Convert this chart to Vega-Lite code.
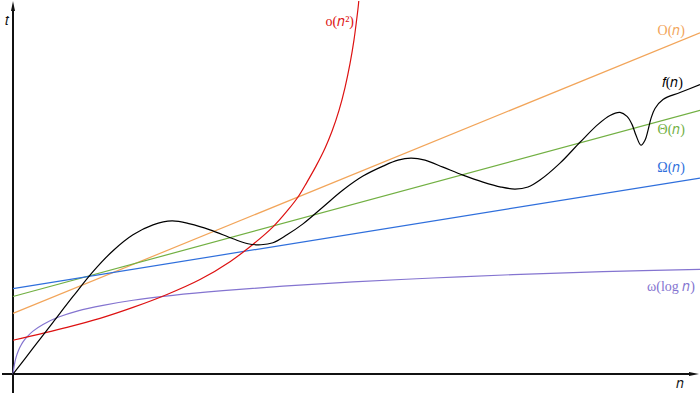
{
  "$schema": "https://vega.github.io/schema/vega-lite/v6.json",
  "width": 700,
  "height": 394,
  "autosize": {"type": "fit", "contains": "padding"},
  "padding": 0,
  "background": "white",
  "config": {"view": {"stroke": null}},
  "datasets": {
    "curves": [
      {"s": "O", "x": 0, "y": 61}, {"s": "O", "x": 687, "y": 343},
      {"s": "Theta", "x": 0, "y": 78}, {"s": "Theta", "x": 687, "y": 265},
      {"s": "Omega", "x": 0, "y": 86}, {"s": "Omega", "x": 687, "y": 197},
      {"s": "omega", "x": 0, "y": 0}, {"s": "omega", "x": 1, "y": 7.3}, {"s": "omega", "x": 2, "y": 12.5},
      {"s": "omega", "x": 3, "y": 16.5}, {"s": "omega", "x": 4, "y": 19.8}, {"s": "omega", "x": 6, "y": 25},
      {"s": "omega", "x": 8, "y": 29}, {"s": "omega", "x": 10, "y": 32.3}, {"s": "omega", "x": 14, "y": 37.4},
      {"s": "omega", "x": 20, "y": 43.2}, {"s": "omega", "x": 30, "y": 49.9}, {"s": "omega", "x": 45, "y": 57.1},
      {"s": "omega", "x": 65, "y": 63.6}, {"s": "omega", "x": 90, "y": 69.1}, {"s": "omega", "x": 120, "y": 74.2},
      {"s": "omega", "x": 160, "y": 79.1}, {"s": "omega", "x": 210, "y": 83.8}, {"s": "omega", "x": 270, "y": 88.4},
      {"s": "omega", "x": 340, "y": 92.6}, {"s": "omega", "x": 420, "y": 96.6}, {"s": "omega", "x": 500, "y": 100},
      {"s": "omega", "x": 590, "y": 103}, {"s": "omega", "x": 687, "y": 105.2},
      {"s": "o", "x": 0, "y": 34}, {"s": "o", "x": 54, "y": 47}, {"s": "o", "x": 87, "y": 56},
      {"s": "o", "x": 120, "y": 67}, {"s": "o", "x": 154, "y": 80}, {"s": "o", "x": 187, "y": 95},
      {"s": "o", "x": 217, "y": 113}, {"s": "o", "x": 237, "y": 128}, {"s": "o", "x": 260, "y": 148},
      {"s": "o", "x": 275, "y": 165}, {"s": "o", "x": 285, "y": 178}, {"s": "o", "x": 294, "y": 193},
      {"s": "o", "x": 303, "y": 209}, {"s": "o", "x": 312, "y": 227}, {"s": "o", "x": 319, "y": 244},
      {"s": "o", "x": 326, "y": 265}, {"s": "o", "x": 332, "y": 288}, {"s": "o", "x": 337, "y": 312},
      {"s": "o", "x": 341, "y": 336}, {"s": "o", "x": 343.5, "y": 355}, {"s": "o", "x": 345.5, "y": 372},
      {"s": "o", "x": 346.5, "y": 385},
      {"s": "f", "x": 0, "y": 0}, {"s": "f", "x": 20, "y": 26}, {"s": "f", "x": 40, "y": 52},
      {"s": "f", "x": 60, "y": 78}, {"s": "f", "x": 80, "y": 103}, {"s": "f", "x": 100, "y": 124},
      {"s": "f", "x": 120, "y": 140}, {"s": "f", "x": 140, "y": 150}, {"s": "f", "x": 159, "y": 154},
      {"s": "f", "x": 177, "y": 151}, {"s": "f", "x": 197, "y": 145}, {"s": "f", "x": 220, "y": 136},
      {"s": "f", "x": 235, "y": 131}, {"s": "f", "x": 248, "y": 130}, {"s": "f", "x": 260, "y": 132},
      {"s": "f", "x": 274, "y": 140}, {"s": "f", "x": 290, "y": 151}, {"s": "f", "x": 310, "y": 168},
      {"s": "f", "x": 330, "y": 185}, {"s": "f", "x": 350, "y": 199}, {"s": "f", "x": 370, "y": 209},
      {"s": "f", "x": 385, "y": 215}, {"s": "f", "x": 398, "y": 217}, {"s": "f", "x": 412, "y": 215},
      {"s": "f", "x": 430, "y": 208}, {"s": "f", "x": 450, "y": 200}, {"s": "f", "x": 470, "y": 193},
      {"s": "f", "x": 488, "y": 188}, {"s": "f", "x": 502, "y": 186}, {"s": "f", "x": 515, "y": 188},
      {"s": "f", "x": 527, "y": 195}, {"s": "f", "x": 547, "y": 212}, {"s": "f", "x": 567, "y": 233},
      {"s": "f", "x": 585, "y": 251}, {"s": "f", "x": 597, "y": 260}, {"s": "f", "x": 607, "y": 263},
      {"s": "f", "x": 614, "y": 259}, {"s": "f", "x": 619, "y": 251}, {"s": "f", "x": 623, "y": 240},
      {"s": "f", "x": 628, "y": 230}, {"s": "f", "x": 632, "y": 235}, {"s": "f", "x": 635, "y": 245},
      {"s": "f", "x": 638, "y": 257}, {"s": "f", "x": 642, "y": 267}, {"s": "f", "x": 650, "y": 276},
      {"s": "f", "x": 667, "y": 283}, {"s": "f", "x": 687, "y": 291}
    ],
    "labels": [
      {"s": "O", "text": "O(𝑛)", "x": 672, "y": 345},
      {"s": "f", "text": "𝑓(𝑛)", "x": 670, "y": 293},
      {"s": "Theta", "text": "Θ(𝑛)", "x": 672, "y": 245},
      {"s": "Omega", "text": "Ω(𝑛)", "x": 672, "y": 207},
      {"s": "omega", "text": "ω(log 𝑛)", "x": 682, "y": 88},
      {"s": "o", "text": "o(𝑛²)", "x": 341, "y": 354},
      {"s": "axis", "text": "𝑡", "x": -4, "y": 355},
      {"s": "axis", "text": "𝑛", "x": 671, "y": -10}
    ],
    "axes": [
      {"x": -11, "y": 0, "x2": 677, "y2": 0},
      {"x": 0, "y": -19, "x2": 0, "y2": 367}
    ],
    "arrows": [
      {"dir": "right", "x": 681, "y": 0},
      {"dir": "up", "x": 0, "y": 370}
    ]
  },
  "layer": [
    {
      "data": {"name": "axes"},
      "mark": {"type": "rule", "color": "#111111", "strokeWidth": 2},
      "encoding": {
        "x": {"field": "x", "type": "quantitative", "scale": {"domain": [-13, 687], "nice": false, "zero": false}, "axis": null},
        "y": {"field": "y", "type": "quantitative", "scale": {"domain": [-19, 375], "nice": false, "zero": false}, "axis": null},
        "x2": {"field": "x2"},
        "y2": {"field": "y2"}
      }
    },
    {
      "data": {"name": "arrows"},
      "mark": {"type": "point", "filled": true, "color": "#111111", "opacity": 1, "size": 100, "strokeWidth": 0},
      "encoding": {
        "x": {"field": "x", "type": "quantitative", "axis": null},
        "y": {"field": "y", "type": "quantitative", "axis": null},
        "shape": {
          "field": "dir", "type": "nominal",
          "scale": {"domain": ["right", "up"], "range": ["M-1,-0.4L1,0L-1,0.4Z", "M-0.4,1L0,-1L0.4,1Z"]},
          "legend": null
        }
      }
    },
    {
      "data": {"name": "curves"},
      "mark": {"type": "line", "interpolate": "catmull-rom", "clip": true},
      "encoding": {
        "x": {"field": "x", "type": "quantitative", "axis": null},
        "y": {"field": "y", "type": "quantitative", "axis": null},
        "color": {
          "field": "s", "type": "nominal",
          "scale": {"domain": ["O", "Theta", "Omega", "omega", "o", "f", "axis"],
                    "range": ["#f2a55a", "#72b043", "#2f6fdc", "#8474d0", "#dd1111", "#000000", "#111111"]},
          "legend": null
        },
        "strokeWidth": {
          "field": "s", "type": "nominal",
          "scale": {"domain": ["O", "Theta", "Omega", "omega", "o", "f"], "range": [1.2, 1.2, 1.2, 1.2, 1.3, 2]},
          "legend": null
        },
        "order": {"field": "x", "type": "quantitative"}
      }
    },
    {
      "data": {"name": "labels"},
      "mark": {"type": "text", "align": "right", "baseline": "middle", "font": "Liberation Serif", "fontSize": 14},
      "encoding": {
        "x": {"field": "x", "type": "quantitative", "axis": null},
        "y": {"field": "y", "type": "quantitative", "axis": null},
        "text": {"field": "text"},
        "color": {"field": "s", "type": "nominal", "legend": null}
      }
    }
  ]
}
